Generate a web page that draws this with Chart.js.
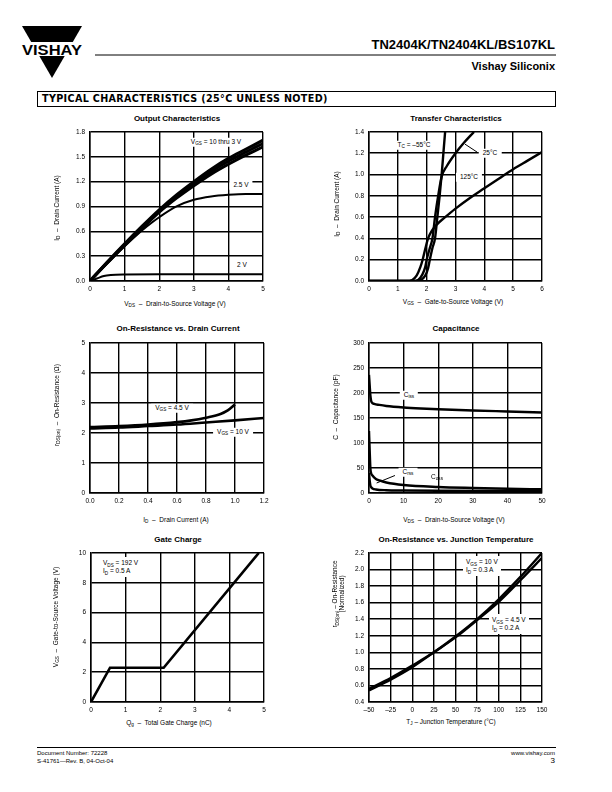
<!DOCTYPE html>
<html>
<head>
<meta charset="utf-8">
<script src="https://cdn.jsdelivr.net/npm/chart.js@4.4.0/dist/chart.umd.min.js"></script>
<style>
body{margin:0;background:#fff;font-family:"Liberation Sans",Arial,sans-serif;color:#000}
#page{position:relative;width:612px;height:792px;overflow:hidden}
.abs{position:absolute;white-space:nowrap;line-height:1}
canvas{position:absolute}
.ttl{font-weight:bold;font-size:8px;transform:translate(-50%,-50%)}
.ax{font-size:6.5px;transform:translate(-50%,-50%)}
.axy{font-size:6.5px;transform:translate(-50%,-50%) rotate(-90deg);text-align:center}
.lbl{font-size:6.5px;background:#fff;padding:1px 4px;transform:translate(-50%,-50%)}
.blk{font-size:6.5px;background:#fff;padding:2px 3px;line-height:8px}
sub{font-size:72%;vertical-align:-1.5px;line-height:0}
</style>
</head>
<body>
<div id="page">
  <svg class="abs" style="left:0;top:0" width="612" height="120">
    <polygon points="22,26 82,26 52,78" fill="#000"/>
    <rect x="18" y="42" width="68" height="14" fill="#fff"/>
    <text x="52" y="55" text-anchor="middle" font-family="Liberation Sans" font-weight="bold" font-size="14" textLength="60" lengthAdjust="spacingAndGlyphs">VISHAY</text>
    <line x1="95" y1="55" x2="556" y2="55" stroke="#000" stroke-width="1"/>
    <rect x="37.5" y="91.5" width="518" height="15" fill="none" stroke="#000" stroke-width="1"/>
  </svg>
  <div class="abs" style="right:57px;top:38px;font-weight:bold;font-size:13px">TN2404K/TN2404KL/BS107KL</div>
  <div class="abs" style="right:57px;top:61px;font-weight:bold;font-size:11px">Vishay Siliconix</div>
  <div class="abs" style="left:42px;top:94px;font-family:'DejaVu Sans';font-weight:bold;font-size:9.6px;letter-spacing:0.35px">TYPICAL CHARACTERISTICS (25&deg;C UNLESS NOTED)</div>

  <!-- chart titles -->
  <div class="abs ttl" style="left:177px;top:119px">Output Characteristics</div>
  <div class="abs ttl" style="left:456px;top:119px">Transfer Characteristics</div>
  <div class="abs ttl" style="left:178px;top:329px">On-Resistance vs. Drain Current</div>
  <div class="abs ttl" style="left:456px;top:329px">Capacitance</div>
  <div class="abs ttl" style="left:178px;top:540px">Gate Charge</div>
  <div class="abs ttl" style="left:456px;top:540px">On-Resistance vs. Junction Temperature</div>

  <canvas id="c1"></canvas>
  <canvas id="c2"></canvas>
  <canvas id="c3"></canvas>
  <canvas id="c4"></canvas>
  <canvas id="c5"></canvas>
  <canvas id="c6"></canvas>

  <!-- axis titles -->
  <div class="abs ax" style="left:175px;top:304px">V<sub>DS</sub> &nbsp;&ndash;&nbsp; Drain-to-Source Voltage (V)</div>
  <div class="abs axy" style="left:57px;top:208px">I<sub>D</sub> &nbsp;&ndash;&nbsp; Drain Current (A)</div>
  <div class="abs ax" style="left:453px;top:302px">V<sub>GS</sub> &nbsp;&ndash;&nbsp; Gate-to-Source Voltage (V)</div>
  <div class="abs axy" style="left:337px;top:204px">I<sub>D</sub> &nbsp;&ndash;&nbsp; Drain Current (A)</div>
  <div class="abs ax" style="left:176px;top:520px">I<sub>D</sub> &nbsp;&ndash;&nbsp; Drain Current (A)</div>
  <div class="abs axy" style="left:57px;top:405px">r<sub>DS(on)</sub> &nbsp;&ndash;&nbsp; On-Resistance (&Omega;)</div>
  <div class="abs ax" style="left:454px;top:520px">V<sub>DS</sub> &nbsp;&ndash;&nbsp; Drain-to-Source Voltage (V)</div>
  <div class="abs axy" style="left:336px;top:407px">C &nbsp;&ndash;&nbsp; Capacitance (pF)</div>
  <div class="abs ax" style="left:169px;top:723px">Q<sub>g</sub> &nbsp;&ndash;&nbsp; Total Gate Charge (nC)</div>
  <div class="abs axy" style="left:56px;top:617px">V<sub>GS</sub> &nbsp;&ndash;&nbsp; Gate-to-Source Voltage (V)</div>
  <div class="abs ax" style="left:451px;top:722px">T<sub>J</sub> &ndash; Junction Temperature (&deg;C)</div>
  <div class="abs axy" style="left:338px;top:594px;line-height:7px">r<sub>DS(on)</sub> &ndash; On-Resistance<br>(Normalized)</div>

  <!-- in-plot labels -->
  <div class="abs lbl" style="left:216px;top:142px">V<sub>GS</sub> = 10 thru 3 V</div>
  <div class="abs lbl" style="left:241px;top:185px">2.5 V</div>
  <div class="abs lbl" style="left:242px;top:265px">2 V</div>
  <div class="abs lbl" style="left:414px;top:145px">T<sub>C</sub> = &ndash;55&deg;C</div>
  <div class="abs lbl" style="left:490px;top:153px">25&deg;C</div>
  <div class="abs lbl" style="left:469px;top:177px">125&deg;C</div>
  <div class="abs lbl" style="left:172px;top:408px">V<sub>GS</sub> = 4.5 V</div>
  <div class="abs lbl" style="left:233px;top:432px">V<sub>GS</sub> = 10 V</div>
  <div class="abs lbl" style="left:409px;top:395px">C<sub>iss</sub></div>
  <div class="abs lbl" style="left:408px;top:472px">C<sub>rss</sub></div>
  <div class="abs lbl" style="left:437px;top:477px;background:none">C<sub>oss</sub></div>
  <div class="abs blk" style="left:100px;top:557px">V<sub>DS</sub> = 192 V<br>I<sub>D</sub> = 0.5 A</div>
  <div class="abs blk" style="left:463px;top:556px">V<sub>GS</sub> = 10 V<br>I<sub>D</sub> = 0.3 A</div>
  <div class="abs blk" style="left:489px;top:614px">V<sub>GS</sub> = 4.5 V<br>I<sub>D</sub> = 0.2 A</div>

  <!-- footer -->
  <svg class="abs" style="left:0;top:740px" width="612" height="10">
    <line x1="37" y1="7.5" x2="556" y2="7.5" stroke="#000" stroke-width="1"/>
  </svg>
  <div class="abs" style="left:37px;top:749px;font-size:6px;line-height:8px">Document Number: 72228<br>S-41761&mdash;Rev. B, 04-Oct-04</div>
  <div class="abs" style="right:57px;top:749px;font-size:6px;line-height:8px;text-align:right">www.vishay.com<br><span style="font-size:8px">3</span></div>
</div>

<script>
// ---- Output Characteristics ----
const outVds = [0, 0.5, 1, 1.5, 2, 2.5, 3, 3.5, 4, 4.5, 5];
const outId10 = [0, 0.23, 0.45, 0.66, 0.86, 1.04, 1.2, 1.35, 1.48, 1.59, 1.7];
const outId5 = [0, 0.225, 0.44, 0.645, 0.845, 1.02, 1.175, 1.32, 1.445, 1.555, 1.66];
const outId3 = [0, 0.22, 0.43, 0.63, 0.83, 1.0, 1.15, 1.29, 1.41, 1.52, 1.62];
const outVds25 = [0, 0.5, 1, 1.5, 1.8, 2, 2.5, 3, 3.5, 4, 4.5, 5];
const outId25 = [0, 0.21, 0.42, 0.61, 0.71, 0.77, 0.9, 0.98, 1.02, 1.04, 1.05, 1.05];
const outVds2 = [0, 0.2, 0.4, 0.6, 1, 2, 3, 4, 5];
const outId2 = [0, 0.03, 0.06, 0.072, 0.078, 0.08, 0.08, 0.08, 0.08];
const outXTicks = [0, 1, 2, 3, 4, 5];
const outYTicks = [0, 0.3, 0.6, 0.9, 1.2, 1.5, 1.8];
const outYLabels = ['0.0', '0.3', '0.6', '0.9', '1.2', '1.5', '1.8'];

// ---- Transfer Characteristics ----
const trVgsCold = [0, 1.6, 1.8, 1.95, 2.05, 2.11, 2.2, 2.29, 2.37, 2.45, 2.52, 2.58, 2.64];
const trIdCold = [0, 0, 0.01, 0.05, 0.12, 0.2, 0.31, 0.4, 0.6, 0.8, 1.0, 1.2, 1.4];
const trVgs25 = [0, 1.5, 1.7, 1.85, 1.95, 2.0, 2.1, 2.2, 2.29, 2.4, 2.52, 2.7, 3.0, 3.3, 3.64];
const trId25 = [0, 0, 0.01, 0.06, 0.13, 0.2, 0.3, 0.4, 0.6, 0.8, 0.98, 1.08, 1.2, 1.3, 1.4];
const trVgsHot = [0, 1.3, 1.5, 1.65, 1.78, 1.86, 1.95, 2.05, 2.2, 2.35, 2.6, 3.0, 3.5, 4, 4.5, 5, 5.5, 6];
const trIdHot = [0, 0, 0.01, 0.05, 0.13, 0.2, 0.3, 0.4, 0.48, 0.53, 0.59, 0.68, 0.78, 0.87, 0.96, 1.05, 1.13, 1.21];
const trXTicks = [0, 1, 2, 3, 4, 5, 6];
const trYTicks = [0, 0.2, 0.4, 0.6, 0.8, 1.0, 1.2, 1.4];
const trYLabels = ['0.0', '0.2', '0.4', '0.6', '0.8', '1.0', '1.2', '1.4'];

// ---- On-Resistance vs. Drain Current ----
const rdId45 = [0, 0.2, 0.4, 0.6, 0.7, 0.8, 0.9, 0.95, 1.0];
const rdR45 = [2.2, 2.23, 2.28, 2.36, 2.42, 2.51, 2.63, 2.75, 2.95];
const rdId10 = [0, 0.2, 0.4, 0.6, 0.8, 1.0, 1.2];
const rdR10 = [2.15, 2.18, 2.23, 2.28, 2.35, 2.42, 2.5];
const rdXTicks = [0, 0.2, 0.4, 0.6, 0.8, 1.0, 1.2];
const rdXLabels = ['0.0', '0.2', '0.4', '0.6', '0.8', '1.0', '1.2'];
const rdYTicks = [0, 1, 2, 3, 4, 5];

// ---- Capacitance ----
const capVdsIss = [0, 0.2, 0.4, 0.6, 0.8, 1.5, 3, 5, 10, 15, 20, 30, 40, 50];
const capCiss = [236, 215, 195, 185, 181, 178, 176, 174, 171, 169, 167.5, 165, 163, 161];
const capVdsOss = [0, 0.2, 0.4, 0.6, 1, 2, 3, 5, 10, 20, 30, 40, 50];
const capCoss = [124, 85, 50, 40, 35, 28, 25, 21, 16, 12, 10, 8.5, 7.5];
const capVdsRss = [0, 0.2, 0.4, 0.7, 1, 2, 5, 10, 20, 50];
const capCrss = [40, 25, 15, 11, 9, 7, 5.5, 5, 4.5, 4];
const capXTicks = [0, 10, 20, 30, 40, 50];
const capYTicks = [0, 50, 100, 150, 200, 250, 300];

// ---- Gate Charge ----
const gcQg = [0, 0.55, 2.1, 4.85];
const gcVgs = [0, 2.3, 2.3, 10];
const gcXTicks = [0, 1, 2, 3, 4, 5];
const gcYTicks = [0, 2, 4, 6, 8, 10];

// ---- On-Resistance vs. Junction Temperature ----
const tjTemp = [-50, -25, 0, 25, 50, 75, 100, 125, 150];
const tjR10 = [0.56, 0.69, 0.84, 1.0, 1.19, 1.4, 1.64, 1.91, 2.2];
const tjR45 = [0.54, 0.67, 0.82, 1.0, 1.18, 1.39, 1.61, 1.87, 2.14];
const tjXTicks = [-50, -25, 0, 25, 50, 75, 100, 125, 150];
const tjXLabels = ['\u201350', '\u201325', '0', '25', '50', '75', '100', '125', '150'];
const tjYTicks = [0.4, 0.6, 0.8, 1.0, 1.2, 1.4, 1.6, 1.8, 2.0, 2.2];
const tjYLabels = ['0.4', '0.6', '0.8', '1.0', '1.2', '1.4', '1.6', '1.8', '2.0', '2.2'];

const FONT = {family: 'Liberation Sans', size: 6.5};

function pts(xs, ys) {
  return xs.map((x, i) => ({x: x, y: ys[i]}));
}

// leader lines drawn in data units
const leaderPlugin = {
  id: 'leader',
  afterDatasetsDraw(chart, args, opts) {
    if (!opts.lines) return;
    const c = chart.ctx, sx = chart.scales.x, sy = chart.scales.y;
    c.save();
    c.strokeStyle = '#000';
    c.lineWidth = 1;
    opts.lines.forEach(l => {
      c.beginPath();
      c.moveTo(sx.getPixelForValue(l[0]), sy.getPixelForValue(l[1]));
      c.lineTo(sx.getPixelForValue(l[2]), sy.getPixelForValue(l[3]));
      c.stroke();
    });
    c.restore();
  }
};

function axis(ticks, labels, isX, size) {
  return {
    type: 'linear',
    min: ticks[0],
    max: ticks[ticks.length - 1],
    afterBuildTicks: s => { s.ticks = ticks.map(v => ({value: v})); },
    afterFit: s => { if (isX) s.height = size; else s.width = size; },
    ticks: {
      callback: (v, i) => labels ? labels[i] : String(ticks[i]),
      font: FONT, color: '#000', padding: isX ? 4 : 5,
      maxRotation: 0, autoSkip: false
    },
    grid: {color: '#000', lineWidth: 1.4, drawTicks: false},
    border: {color: '#000', width: 1.5}
  };
}

function plot(id, area, xTicks, xLabels, yTicks, yLabels, sets, lines) {
  const padL = 36, padT = 8, padR = 12, padB = 14;
  const cv = document.getElementById(id);
  cv.width = area[2] - area[0] + padL + padR;
  cv.height = area[3] - area[1] + padT + padB;
  cv.style.left = (area[0] - padL) + 'px';
  cv.style.top = (area[1] - padT) + 'px';
  new Chart(cv, {
    type: 'line',
    data: {
      datasets: sets.map(s => ({
        data: pts(s[0], s[1]),
        borderColor: '#000',
        borderWidth: s[2],
        pointRadius: 0,
        fill: false,
        cubicInterpolationMode: s[3] ? undefined : 'monotone',
        tension: 0
      }))
    },
    options: {
      responsive: false,
      animation: false,
      devicePixelRatio: 1,
      layout: {padding: {left: 0, top: padT, right: padR, bottom: 0}},
      scales: {
        x: axis(xTicks, xLabels, true, padB),
        y: axis(yTicks, yLabels, false, padL)
      },
      plugins: {legend: {display: false}, tooltip: {enabled: false}, leader: {lines: lines}}
    },
    plugins: [leaderPlugin]
  });
}

plot('c1', [90, 131, 263, 281], outXTicks, null, outYTicks, outYLabels, [
  [outVds, outId10, 3],
  [outVds, outId5, 3],
  [outVds, outId3, 3],
  [outVds25, outId25, 2],
  [outVds2, outId2, 2]
]);

plot('c2', [369, 131, 542, 281], trXTicks, null, trYTicks, trYLabels, [
  [trVgsCold, trIdCold, 2.4],
  [trVgs25, trId25, 2.4],
  [trVgsHot, trIdHot, 2.4]
], [[3.33, 1.285, 3.75, 1.21]]);

plot('c3', [90, 342, 264, 493], rdXTicks, rdXLabels, rdYTicks, null, [
  [rdId45, rdR45, 2.6],
  [rdId10, rdR10, 2.6]
]);

plot('c4', [369, 342, 542, 493], capXTicks, null, capYTicks, null, [
  [capVdsIss, capCiss, 2.4],
  [capVdsOss, capCoss, 2.4],
  [capVdsRss, capCrss, 2.4]
], [[7.5, 35, 2.2, 20]]);

plot('c5', [91, 552, 264, 702], gcXTicks, null, gcYTicks, null, [
  [gcQg, gcVgs, 2.6, true]
]);

plot('c6', [369, 552, 542, 702], tjXTicks, tjXLabels, tjYTicks, tjYLabels, [
  [tjTemp, tjR10, 2.4],
  [tjTemp, tjR45, 2.4]
]);
</script>
</body>
</html>
